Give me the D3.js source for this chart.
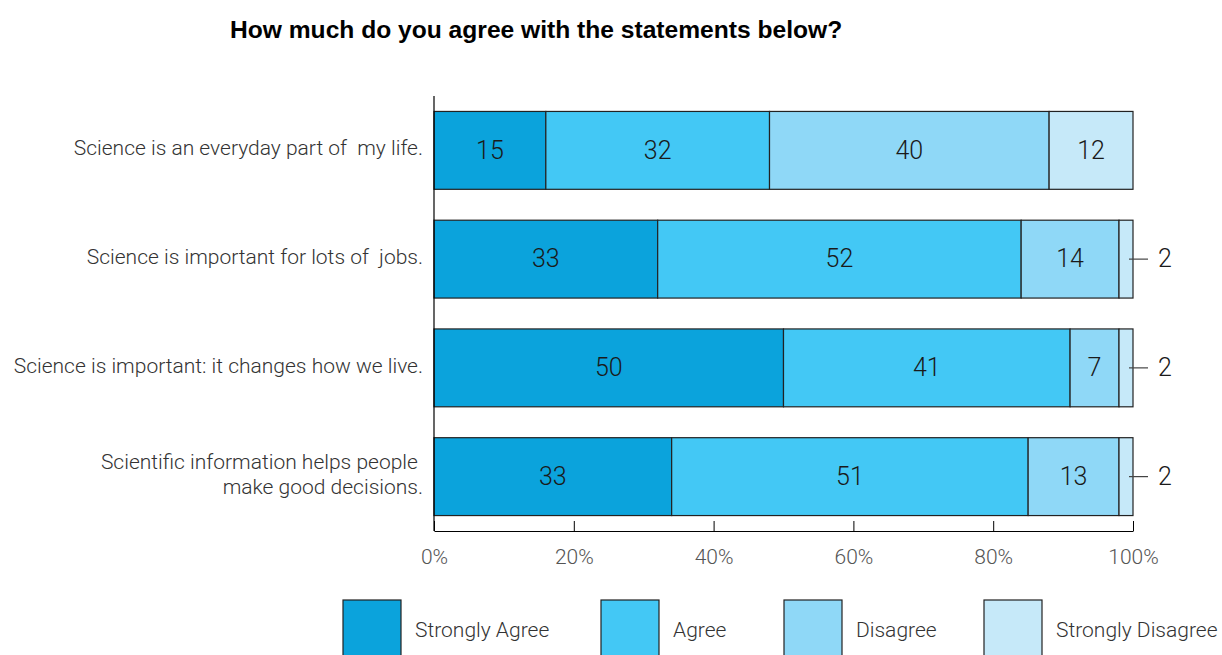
<!DOCTYPE html>
<html>
<head>
<meta charset="utf-8">
<script src="https://cdn.jsdelivr.net/npm/d3@7"></script>
<style>
  body { margin: 0; background: #fff; }
  text { font-family: Roboto, "Liberation Sans", sans-serif; font-weight: 300; }
</style>
</head>
<body>
<svg id="chart" width="1222" height="655"></svg>
<script>
var svg = d3.select('#chart');

// statements (one row per bar), lines split for wrapping
const statements = [
    ["Science is an everyday part of  my life."],
    ["Science is important for lots of  jobs."],
    ["Science is important: it changes how we live."],
    ["Scientific information helps people ", "make good decisions."]
];
const responses = ["Strongly Agree", "Agree", "Disagree", "Strongly Disagree"];
// bar widths in percent as drawn
const strongAgree    = [16, 32, 50, 34];
const agree          = [32, 52, 41, 51];
const disagree       = [40, 14, 7, 13];
const strongDisagree = [12, 2, 2, 2];
// printed labels
const strongAgreeLbl    = [15, 33, 50, 33];
const agreeLbl          = [32, 52, 41, 51];
const disagreeLbl       = [40, 14, 7, 13];
const strongDisagreeLbl = [12, 2, 2, 2];
const xTicks = [0, 20, 40, 60, 80, 100];
const colors = ["#0ba3dc", "#43c8f5", "#8fd8f7", "#c6e9f9"];

const values = [strongAgree, agree, disagree, strongDisagree];
const labels = [strongAgreeLbl, agreeLbl, disagreeLbl, strongDisagreeLbl];

const margin = {left: 434, right: 89, top: 96, bottom: 124};
const W = +svg.attr('width');
const H = +svg.attr('height');

const x = d3.scaleLinear().domain([0, 100]).range([margin.left, W - margin.right]);
const y = d3.scaleBand().domain(d3.range(statements.length))
    .range([margin.top, H - margin.bottom])
    .paddingInner(0.284).paddingOuter(0.142);

// title
svg.append('text').text("How much do you agree with the statements below?")
    .attr('x', 230).attr('y', 38)
    .style('font-family', '"Liberation Sans", Arial, sans-serif')
    .style('font-weight', 700)
    .style('font-size', '24.6px')
    .attr('fill', '#000');

// stacked segments
statements.forEach((s, i) => {
    let acc = 0;
    values.forEach((series, k) => {
        const v = series[i];
        const x0 = x(acc), x1 = x(acc + v);
        svg.append('rect')
            .attr('x', x0).attr('y', y(i))
            .attr('width', x1 - x0).attr('height', y.bandwidth())
            .attr('fill', colors[k])
            .attr('stroke', '#222').attr('stroke-width', 1.2);
        const cy = y(i) + y.bandwidth() / 2;
        if (v >= 5) {
            svg.append('text').text(labels[k][i])
                .attr('x', (x0 + x1) / 2).attr('y', cy)
                .attr('dy', '0.33em')
                .attr('text-anchor', 'middle')
                .style('font-size', '25px')
                .attr('fill', '#1a1a1a');
        } else {
            svg.append('line')
                .attr('x1', x1 - 4).attr('x2', x1 + 15)
                .attr('y1', cy).attr('y2', cy)
                .attr('stroke', '#444').attr('stroke-width', 1.2);
            svg.append('text').text(labels[k][i])
                .attr('x', x1 + 25).attr('y', cy)
                .attr('dy', '0.33em')
                .style('font-size', '25px')
                .attr('fill', '#1a1a1a');
        }
        acc += v;
    });

    // category label
    const cy = y(i) + y.bandwidth() / 2;
    const t = svg.append('text')
        .attr('text-anchor', 'end')
        .style('font-size', '21px')
        .attr('fill', '#333');
    s.forEach((line, j) => {
        t.append('tspan').text(line)
            .attr('x', 423)
            .attr('y', cy - 2 + (j - (s.length - 1) / 2) * 25)
            .attr('dy', '0.33em')
            .style('white-space', 'pre');
    });
    t.attr('xml:space', 'preserve');
});

// y axis line
svg.append('line')
    .attr('x1', margin.left).attr('x2', margin.left)
    .attr('y1', margin.top).attr('y2', H - margin.bottom)
    .attr('stroke', '#000').attr('stroke-width', 1.2);

// x axis
const xAxis = svg.append('g')
    .attr('transform', 'translate(0,' + (H - margin.bottom) + ')')
    .call(d3.axisBottom(x).tickValues(xTicks).tickFormat(d => d + '%').tickSizeInner(-10).tickSizeOuter(0).tickPadding(18));
xAxis.select('.domain').attr('stroke', '#000').attr('stroke-width', 1.2);
xAxis.selectAll('.tick line').attr('stroke', '#000');
xAxis.selectAll('.tick text')
    .style('font-size', '21px')
    .style('font-family', 'Roboto, "Liberation Sans", sans-serif')
    .style('font-weight', 300)
    .attr('fill', '#555');

// legend
const legendX = [343, 601, 784, 984];
responses.forEach((r, k) => {
    svg.append('rect')
        .attr('x', legendX[k]).attr('y', 600)
        .attr('width', 58).attr('height', 60)
        .attr('fill', colors[k])
        .attr('stroke', '#222').attr('stroke-width', 1.2);
    svg.append('text').text(r)
        .attr('x', legendX[k] + 72).attr('y', 630)
        .attr('dy', '0.33em')
        .style('font-size', '21px')
        .attr('fill', '#333');
});
</script>
</body>
</html>
